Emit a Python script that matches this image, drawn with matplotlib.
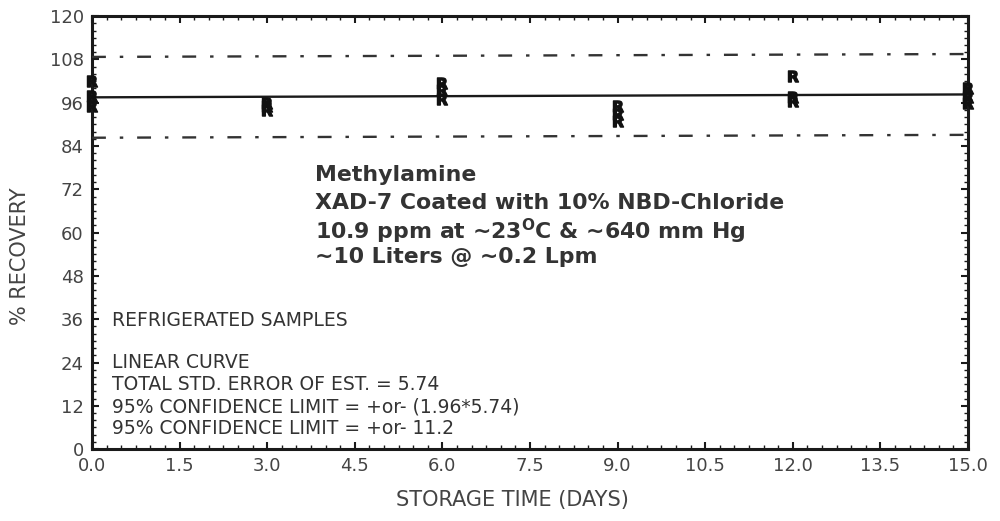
import matplotlib
matplotlib.use("Agg")
import matplotlib.pyplot as plt
from matplotlib.ticker import MultipleLocator

plt.rcParams['lines.scale_dashes'] = False
plt.rcParams['font.family'] = ['DejaVu Sans']

# ---- data ----
days = [0, 0, 0, 3, 3, 3, 6, 6, 6, 9, 9, 9, 12, 12, 12, 15, 15, 15]
recovery = [102.0, 98.0, 95.0, 96.0, 95.0, 94.0, 101.5, 99.5, 97.0,
            95.0, 93.0, 91.0, 103.5, 97.5, 96.5, 100.0, 97.5, 96.0]
fit_days = [0, 15]
fit_recovery = [97.5, 98.3]
conf_limit = 11.2
x_ticks = [0.0, 1.5, 3.0, 4.5, 6.0, 7.5, 9.0, 10.5, 12.0, 13.5, 15.0]
y_ticks = [0, 12, 24, 36, 48, 60, 72, 84, 96, 108, 120]

title_lines = ["Methylamine",
               "XAD-7 Coated with 10% NBD-Chloride",
               "10.9 ppm at \u223c23$^{\\mathbf{O}}$C & \u223c640 mm Hg",
               "\u223c10 Liters @ \u223c0.2 Lpm"]
info_lines = ["REFRIGERATED SAMPLES",
              "LINEAR CURVE",
              "TOTAL STD. ERROR OF EST. = 5.74",
              "95% CONFIDENCE LIMIT = +or- (1.96*5.74)",
              "95% CONFIDENCE LIMIT = +or- 11.2"]

fig = plt.figure(figsize=(10, 5.21), dpi=100)
ax = fig.add_axes([0.092, 0.138, 0.876, 0.831])

ink = '#1a1a1a'
ax.plot(fit_days, fit_recovery, color=ink, lw=1.7, zorder=3)
upper = [v + conf_limit for v in fit_recovery]
lower = [v - conf_limit for v in fit_recovery]
for band in (upper, lower):
    ax.plot(fit_days, band, color='#333333', lw=1.7,
            linestyle=(0, (10, 10, 2.5, 10)), zorder=3)

ax.plot(days, recovery, linestyle='none', marker=r'$\mathbf{R}$',
        markersize=8, color='#111111', zorder=4, clip_on=False)

ax.set_xlim(0, 15)
ax.set_ylim(0, 120)
ax.set_xticks(x_ticks)
ax.set_xticklabels([f"{t:.1f}" for t in x_ticks])
ax.set_yticks(y_ticks)
ax.xaxis.set_minor_locator(MultipleLocator(0.25))
ax.yaxis.set_minor_locator(MultipleLocator(2))
ax.tick_params(which='major', direction='in', length=5, width=1.5,
               top=True, right=True, labelsize=13, labelcolor='#444444',
               color=ink, pad=6)
ax.tick_params(which='minor', direction='in', length=3, width=1,
               top=True, right=True, color=ink)
for s in ax.spines.values():
    s.set_linewidth(2.2)
    s.set_color(ink)

xl = ax.set_xlabel("STORAGE TIME (DAYS)", fontsize=15, color='#444444')
xl.set_va('center')
ax.xaxis.set_label_coords((512 - 92) / 876, (449 - 500) / 433)
yl = ax.set_ylabel("% RECOVERY", fontsize=15, color='#444444')
yl.set_va('center')
ax.yaxis.set_label_coords((20 - 92) / 876, (449 - 256) / 433)

title_y = [175, 203, 231, 257]
for txt, yp in zip(title_lines, title_y):
    fig.text(315 / 1000, 1 - yp / 521, txt, fontsize=15.8, fontweight='bold',
             color='#333333', va='center', ha='left')

info_y = [320, 363, 385, 407, 429]
for txt, yp in zip(info_lines, info_y):
    fig.text(112 / 1000, 1 - yp / 521, txt, fontsize=13.5,
             color='#333333', va='center', ha='left')

fig.savefig("out.png", dpi=100)
